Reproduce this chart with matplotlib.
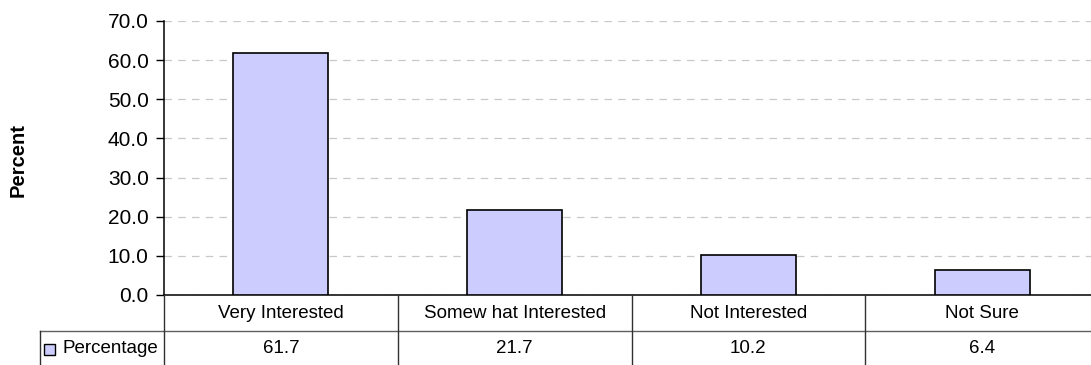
import matplotlib.pyplot as plt
from matplotlib.patches import Rectangle
from matplotlib.lines import Line2D
from matplotlib.transforms import blended_transform_factory

categories = ["Very Interested", "Somew hat Interested", "Not Interested", "Not Sure"]
percentages = [61.7, 21.7, 10.2, 6.4]
series_name = "Percentage"
yticks = [0, 10, 20, 30, 40, 50, 60, 70]

plt.rcParams["font.family"] = ["Liberation Sans", "DejaVu Sans"]

W, H = 1091, 365
fig = plt.figure(figsize=(W / 100, H / 100), dpi=100)
# plot area runs a little past the right edge of the picture, as in the original
left, right, top, bottom = 164, 1099, 21, 295
ax = fig.add_axes([left / W, (H - bottom) / H, (right - left) / W, (bottom - top) / H])

bar_color = "#ccccff"
n = len(categories)
x = range(n)
ax.bar(x, percentages, width=0.406, color=bar_color, edgecolor="black", linewidth=1.2, zorder=3)
ax.set_xlim(-0.5, n - 0.5)
ax.set_ylim(0, 70)
ax.set_yticks(yticks)
ax.set_yticklabels([f"{v:.1f}" for v in yticks], fontsize=15)
ax.set_xticks([])
ax.yaxis.grid(True, linestyle=(0, (6, 5)), color="#c8c8c8", linewidth=0.9, zorder=0)
ax.tick_params(axis="y", length=6, width=1, pad=5)
for s in ["top", "right"]:
    ax.spines[s].set_visible(False)
ax.spines["left"].set_linewidth(1.1)
ax.spines["bottom"].set_linewidth(1.1)

fig.text(18 / W, 1 - 160 / H, "Percent", rotation=90, fontsize=14.5, fontweight="bold",
         ha="center", va="center")

# data table under the plot area: x in category units, y in figure fraction
tr = blended_transform_factory(ax.transData, fig.transFigure)
fy = lambda py: 1 - py / H
row1, row2, row3 = 295, 331, 366
line_kw = dict(color="#303030", linewidth=1.0, clip_on=False)

fig.add_artist(Line2D([40 / W, 1], [fy(row2)] * 2, transform=fig.transFigure, color="#606060",
                      linewidth=1.0))
fig.add_artist(Line2D([40 / W] * 2, [fy(row2), fy(row3)], transform=fig.transFigure, **line_kw))
for i in range(n):
    fig.add_artist(Line2D([i - 0.5] * 2, [fy(row1), fy(row3)], transform=tr, **line_kw))

for i, (cat, val) in enumerate(zip(categories, percentages)):
    fig.text(i, fy((row1 + row2) / 2), cat, transform=tr, ha="center", va="center", fontsize=13.5)
    fig.text(i, fy((row2 + row3) / 2), f"{val:.1f}", transform=tr, ha="center", va="center",
             fontsize=13.5)

fig.patches.append(Rectangle((44 / W, fy(355)), 11 / W, 11 / H, transform=fig.transFigure,
                             facecolor=bar_color, edgecolor="black", linewidth=1.0))
fig.text(62 / W, fy((row2 + row3) / 2), series_name, ha="left", va="center", fontsize=13.5)

fig.savefig("out.png", dpi=100)
